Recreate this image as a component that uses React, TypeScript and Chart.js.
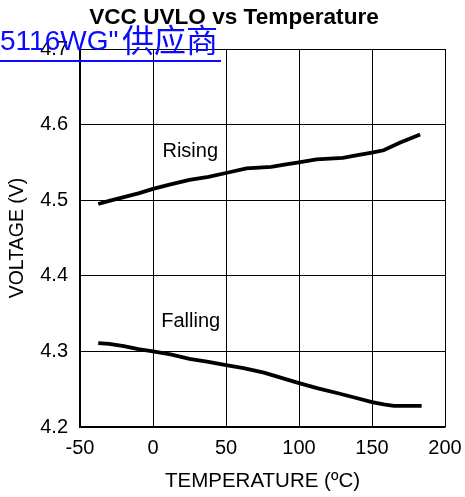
import React, { useEffect, useRef } from "react";
import { Chart, registerables } from "chart.js";

Chart.register(...registerables);

const chartTitle = "VCC UVLO vs Temperature";
const overlayLatin = "5116WG\"";
const overlayCjk = "供应商";
const xAxisTitle = "TEMPERATURE (ºC)";
const yAxisTitle = "VOLTAGE (V)";

const xTicks = [-50, 0, 50, 100, 150, 200];
const yTicks = [4.2, 4.3, 4.4, 4.5, 4.6, 4.7];

const risingTemp = [-37.5, -30, -20, -10, 0, 12, 25, 38, 50, 64, 81, 90, 100, 112, 130, 141, 150, 158, 169, 183];
const risingVolt = [4.495, 4.499, 4.504, 4.509, 4.515, 4.521, 4.527, 4.531, 4.536, 4.542, 4.544, 4.547, 4.55, 4.554, 4.556, 4.56, 4.563, 4.566, 4.576, 4.587];

const fallingTemp = [-37.5, -30, -20, -10, 0, 12, 25, 38, 50, 62, 76, 88, 100, 113, 126, 138, 150, 158, 165, 175, 184];
const fallingVolt = [4.311, 4.31, 4.307, 4.303, 4.3, 4.296, 4.29, 4.286, 4.282, 4.278, 4.272, 4.265, 4.258, 4.251, 4.245, 4.239, 4.233, 4.23, 4.228, 4.228, 4.228];

const curveLabels = ["Rising", "Falling"];
const curveLabelTemp = [25.5, 25.8];
const curveLabelVolt = [4.564, 4.339];

const FONT = "'Liberation Sans', Arial, sans-serif";

const overlayPlugin = {
  id: "overlayText",
  afterDraw(chart: any) {
    const ctx = chart.ctx;
    const xs = chart.scales.x;
    const ys = chart.scales.y;
    ctx.save();
    // curve labels
    ctx.fillStyle = "#000";
    ctx.font = `20px ${FONT}`;
    ctx.textAlign = "center";
    ctx.textBaseline = "middle";
    curveLabels.forEach((t, i) => {
      ctx.fillText(t, xs.getPixelForValue(curveLabelTemp[i]), ys.getPixelForValue(curveLabelVolt[i]));
    });
    // title
    ctx.font = `bold 22.6px ${FONT}`;
    ctx.textAlign = "center";
    ctx.textBaseline = "alphabetic";
    ctx.fillText(chartTitle, 234, 24);
    // blue overlay link text
    ctx.fillStyle = "#0a0aff";
    ctx.textAlign = "left";
    ctx.font = `28px ${FONT}`;
    ctx.fillText(overlayLatin, 0, 50);
    ctx.font = `32px 'Noto Sans CJK SC', sans-serif`;
    ctx.fillText(overlayCjk, 122, 52);
    ctx.fillRect(0, 60, 221, 2);
    ctx.restore();
  },
};

export default function App() {
  const ref = useRef<HTMLCanvasElement | null>(null);
  useEffect(() => {
    document.body.style.margin = "0";
    const canvas = ref.current!;
    const chart = new Chart(canvas, {
      type: "line",
      data: {
        datasets: [
          {
            label: "Rising",
            data: risingTemp.map((t, i) => ({ x: t, y: risingVolt[i] })),
            borderColor: "#000",
            borderWidth: 3.8,
            pointRadius: 0,
            tension: 0,
          },
          {
            label: "Falling",
            data: fallingTemp.map((t, i) => ({ x: t, y: fallingVolt[i] })),
            borderColor: "#000",
            borderWidth: 3.8,
            pointRadius: 0,
            tension: 0,
          },
        ],
      },
      options: {
        animation: false,
        responsive: false,
        devicePixelRatio: 1,
        layout: { padding: { top: 49, right: 20, left: 0, bottom: 0 } },
        plugins: {
          legend: { display: false },
          tooltip: { enabled: false },
          title: { display: false },
        },
        scales: {
          x: {
            type: "linear",
            min: -50,
            max: 200,
            afterBuildTicks: (s: any) => {
              s.ticks = xTicks.map((v) => ({ value: v }));
            },
            afterFit: (s: any) => {
              s.height = 70;
              s.paddingRight = 0;
              s.paddingLeft = 0;
            },
            ticks: {
              color: "#000",
              font: { size: 20, family: FONT },
              padding: 9,
              maxRotation: 0,
              callback: (v: any) => String(v),
            },
            grid: { color: "#000", lineWidth: 1, drawTicks: false },
            border: { color: "#000", width: 1.5 },
            title: {
              display: true,
              text: xAxisTitle,
              color: "#000",
              font: { size: 20.5, family: FONT },
              padding: { top: 0, bottom: 3.7 },
            },
          },
          y: {
            type: "linear",
            min: 4.2,
            max: 4.7,
            afterBuildTicks: (s: any) => {
              s.ticks = yTicks.map((v) => ({ value: v }));
            },
            afterFit: (s: any) => {
              s.width = 80;
            },
            ticks: {
              color: "#000",
              font: { size: 20, family: FONT },
              padding: 12,
              callback: (v: any) => Number(v).toFixed(1),
            },
            grid: { color: "#000", lineWidth: 1, drawTicks: false },
            border: { color: "#000", width: 1.5 },
            title: {
              display: true,
              text: yAxisTitle,
              color: "#000",
              font: { size: 19.5, family: FONT },
              padding: { top: 6.3, bottom: 0 },
            },
          },
        },
      },
      plugins: [overlayPlugin],
    });
    return () => chart.destroy();
  }, []);
  return (
    <div style={{ position: "fixed", left: 0, top: 0, width: 465, height: 497, background: "#fff" }}>
      <canvas ref={ref} width={465} height={497} style={{ width: 465, height: 497 }} />
    </div>
  );
}
